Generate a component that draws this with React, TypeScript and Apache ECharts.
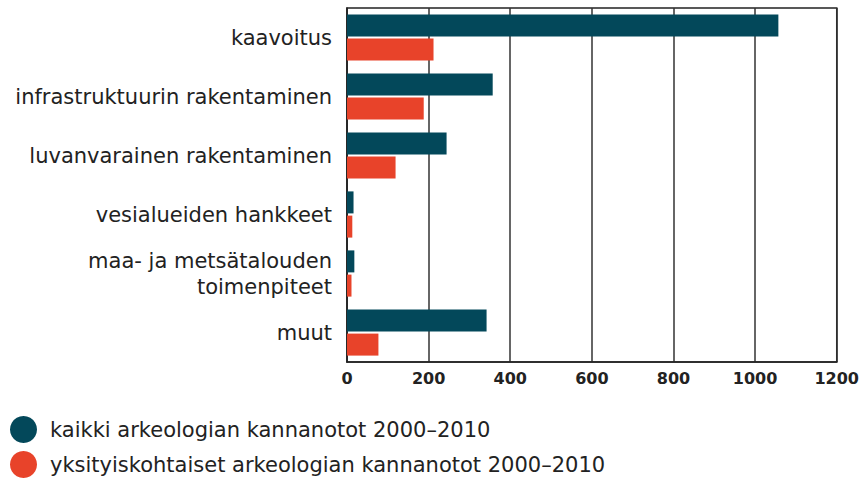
import React, { useEffect, useRef } from "react";
import * as echarts from "echarts";

const categories = [
  "kaavoitus",
  "infrastruktuurin rakentaminen",
  "luvanvarainen rakentaminen",
  "vesialueiden hankkeet",
  "maa- ja metsätalouden\ntoimenpiteet",
  "muut",
];
const seriesNames = [
  "kaikki arkeologian kannanotot 2000–2010",
  "yksityiskohtaiset arkeologian kannanotot 2000–2010",
];
const allValues = [1057, 357, 244, 16, 18, 342];
const detailedValues = [212, 188, 119, 13, 11, 77];
const colors = ["#03485a", "#e8432a"];

export default function App() {
  const ref = useRef<HTMLDivElement>(null);
  useEffect(() => {
    const chart = echarts.init(ref.current!, null, { renderer: "svg" });
    const font = "DejaVu Sans";
    chart.setOption({
      animation: false,
      textStyle: { fontFamily: font },
      color: colors,
      grid: {
        left: 347,
        right: 24,
        top: 8,
        bottom: 116,
        show: true,
        borderColor: "#222",
        borderWidth: 1.5,
        containLabel: false,
      },
      legend: {
        orient: "vertical",
        left: 10,
        top: 416,
        height: 62,
        padding: 0,
        icon: "circle",
        itemWidth: 33,
        itemHeight: 27,
        itemGap: 8,
        textStyle: {
          fontSize: 21,
          color: "#222",
          fontFamily: font,
          padding: [0, 0, 0, 5],
        },
        data: seriesNames,
      },
      xAxis: {
        type: "value",
        min: 0,
        max: 1200,
        interval: 200,
        axisLine: { show: true, lineStyle: { color: "#222", width: 1.5 } },
        axisTick: { show: false },
        axisLabel: {
          fontSize: 16,
          fontWeight: "bold",
          color: "#222",
          margin: 8,
          fontFamily: font,
          formatter: (v: number) => String(v),
        },
        splitLine: { show: true, lineStyle: { color: "#333", width: 1.5 } },
      },
      yAxis: {
        type: "category",
        inverse: true,
        data: categories,
        axisLine: { show: true, lineStyle: { color: "#222", width: 1.5 } },
        axisTick: { show: false },
        axisLabel: {
          fontSize: 21,
          color: "#222",
          margin: 15,
          lineHeight: 26,
          align: "right",
          fontFamily: font,
        },
      },
      series: [
        {
          name: seriesNames[0],
          type: "bar",
          data: allValues,
          barWidth: 22,
          barGap: "10%",
          itemStyle: { color: colors[0] },
        },
        {
          name: seriesNames[1],
          type: "bar",
          data: detailedValues,
          barWidth: 22,
          barGap: "10%",
          itemStyle: { color: colors[1] },
        },
      ],
    });
    return () => chart.dispose();
  }, []);
  return <div ref={ref} style={{ width: 862, height: 478, position: "absolute", left: 0, top: 0 }} />;
}
